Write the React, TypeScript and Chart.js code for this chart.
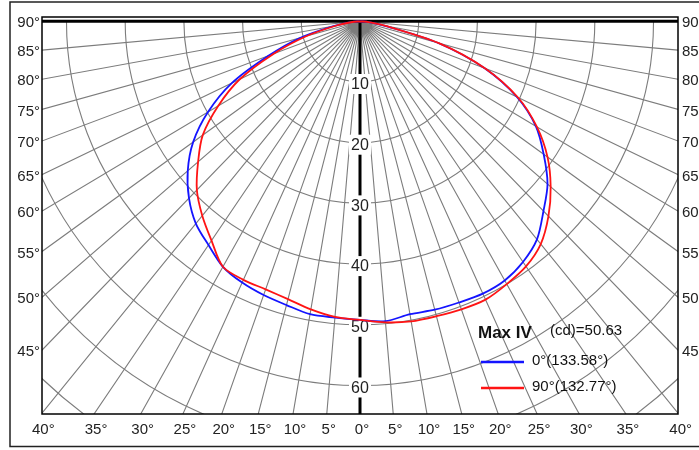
import React, { useEffect, useRef } from "react";
import { Chart, registerables } from "chart.js";

Chart.register(...registerables);

// ---- data (angle from nadir, degrees; intensity in cd) ----
const ANGLES = [
  -90, -85, -80, -75, -70, -65, -60, -55, -50, -45, -40, -35, -30, -25, -20, -15, -10, -5,
  0, 5, 10, 15, 20, 25, 30, 35, 40, 45, 50, 55, 60, 65, 70, 75, 80, 85, 90,
];
const C0_VALUES = [
  0, 1.5, 4.7, 10.6, 16.6, 24.1, 29.9, 34.7, 38.3, 41.2, 43.5, 45.0, 46.7, 47.5, 48.0, 48.4, 49.0, 49.0,
  49.2, 49.6, 49.0, 49.2, 49.3, 49.5, 49.3, 48.4, 46.9, 44.2, 41.7, 38.2, 34.6, 29.5, 22.6, 13.8, 4.5, 1.5, 0,
];
const C90_VALUES = [
  0, 1.3, 4.2, 9.5, 15.7, 22.6, 27.9, 32.7, 36.0, 39.3, 41.8, 44.1, 46.7, 47.0, 47.0, 47.4, 48.2, 48.9,
  49.2, 49.8, 50.2, 50.3, 50.5, 50.6, 50.0, 49.3, 47.9, 45.4, 42.4, 39.0, 34.8, 29.7, 22.7, 14.0, 4.6, 1.5, 0,
];
const SERIES_LABELS = ["0°(133.58°)", "90°(132.77°)"];
const LEGEND_TITLE = "Max IV";
const LEGEND_UNIT = "(cd)=50.63";

// ---- grid / tick labels ----
const RADIAL_TICKS = [10, 20, 30, 40, 50, 60];
const GRID_CIRCLES = [10, 20, 30, 40, 50, 60, 70, 80, 90];
const SPOKE_ANGLES = [
  -85, -80, -75, -70, -65, -60, -55, -50, -45, -40, -35, -30, -25, -20, -15, -10, -5,
  5, 10, 15, 20, 25, 30, 35, 40, 45, 50, 55, 60, 65, 70, 75, 80, 85,
];
const SIDE_LABEL_ANGLES = [90, 85, 80, 75, 70, 65, 60, 55, 50, 45];
const BOTTOM_LABEL_ANGLES = [-40, -35, -30, -25, -20, -15, -10, -5, 0, 5, 10, 15, 20, 25, 30, 35, 40];

const X_HALF = 54.17;
const Y_TOP = 0.71;
const Y_BOTTOM = -64.7;

const FONT = '"Liberation Sans", Arial, sans-serif';
const BLUE = "#1414ff";
const RED = "#ff1414";

const rad = (d: number) => (d * Math.PI) / 180;
const toXY = (vals: number[]) =>
  ANGLES.map((a, i) => ({ x: vals[i] * Math.sin(rad(a)), y: -vals[i] * Math.cos(rad(a)) }));

const polarPlugin = {
  id: "polarGrid",
  beforeDraw(chart: any) {
    const { ctx, width, height } = chart;
    ctx.save();
    ctx.fillStyle = "#ffffff";
    ctx.fillRect(0, 0, width, height);
    ctx.restore();
  },
  beforeDatasetsDraw(chart: any) {
    const { ctx, chartArea: ca, scales } = chart;
    const xs = scales.x;
    const ys = scales.y;
    const ox = xs.getPixelForValue(0);
    const oy = ys.getPixelForValue(0);
    const kx = xs.getPixelForValue(1) - ox;
    const ky = ys.getPixelForValue(-1) - oy;
    ctx.save();
    ctx.beginPath();
    ctx.rect(ca.left, ca.top, ca.right - ca.left, ca.bottom - ca.top);
    ctx.clip();

    ctx.strokeStyle = "#7c7c7c";
    ctx.lineWidth = 1.1;
    for (const r of GRID_CIRCLES) {
      ctx.beginPath();
      ctx.ellipse(ox, oy, r * kx, r * ky, 0, 0, Math.PI);
      ctx.stroke();
    }
    const R = 300;
    ctx.beginPath();
    for (const a of SPOKE_ANGLES) {
      const t = rad(a);
      ctx.moveTo(ox, oy);
      ctx.lineTo(xs.getPixelForValue(R * Math.sin(t)), ys.getPixelForValue(-R * Math.cos(t)));
    }
    ctx.stroke();

    // 90° line and nadir axis
    ctx.strokeStyle = "#000";
    ctx.lineWidth = 3;
    ctx.beginPath();
    ctx.moveTo(ca.left, oy);
    ctx.lineTo(ca.right, oy);
    ctx.stroke();
    ctx.beginPath();
    ctx.moveTo(ox, oy);
    ctx.lineTo(ox, ca.bottom);
    ctx.stroke();

    // radial tick labels
    ctx.font = `16px ${FONT}`;
    ctx.textAlign = "center";
    ctx.textBaseline = "middle";
    for (const r of RADIAL_TICKS) {
      const py = ys.getPixelForValue(-r);
      ctx.fillStyle = "#fff";
      ctx.fillRect(ox - 11, py - 8, 22, 20);
      ctx.fillStyle = "#222";
      ctx.fillText(String(r), ox, py + 3);
    }
    ctx.restore();
  },
  afterDraw(chart: any) {
    const { ctx, chartArea: ca, scales } = chart;
    const xs = scales.x;
    const ys = scales.y;
    ctx.save();
    // inner frame
    ctx.strokeStyle = "#000";
    ctx.lineWidth = 1.5;
    ctx.strokeRect(ca.left, ca.top, ca.right - ca.left, ca.bottom - ca.top);
    // outer frame
    ctx.strokeStyle = "#222";
    ctx.lineWidth = 1.5;
    ctx.strokeRect(10, 2, 700, 444.5);

    ctx.fillStyle = "#222";
    ctx.font = `15px ${FONT}`;
    ctx.textBaseline = "middle";
    const xMinVal = xs.getValueForPixel(ca.left);
    for (const a of SIDE_LABEL_ANGLES) {
      const t = rad(a);
      const vy = a === 90 ? 0 : -Math.abs(xMinVal) / Math.tan(t);
      const py = ys.getPixelForValue(vy) + 2;
      ctx.textAlign = "right";
      ctx.fillText(`${a}°`, ca.left - 2, py);
      ctx.textAlign = "left";
      ctx.fillText(`${a}°`, ca.right + 4, py);
    }
    const yMinVal = ys.getValueForPixel(ca.bottom);
    ctx.textAlign = "center";
    for (const a of BOTTOM_LABEL_ANGLES) {
      const vx = Math.abs(yMinVal) * Math.tan(rad(a));
      const px = xs.getPixelForValue(vx) + 2;
      ctx.fillText(`${Math.abs(a)}°`, px, ca.bottom + 16);
    }

    // legend
    const lx = ca.right - 200;
    ctx.textAlign = "left";
    ctx.fillStyle = "#111";
    ctx.font = `bold 17px ${FONT}`;
    ctx.fillText(LEGEND_TITLE, lx, ca.top + 316);
    ctx.font = `15px ${FONT}`;
    ctx.fillText(LEGEND_UNIT, lx + 72, ca.top + 314);
    const items = [
      { label: SERIES_LABELS[0], color: BLUE, y: ca.top + 345 },
      { label: SERIES_LABELS[1], color: RED, y: ca.top + 371 },
    ];
    for (const it of items) {
      ctx.strokeStyle = it.color;
      ctx.lineWidth = 2.5;
      ctx.beginPath();
      ctx.moveTo(lx + 3, it.y);
      ctx.lineTo(lx + 46, it.y);
      ctx.stroke();
      ctx.fillStyle = "#111";
      ctx.fillText(it.label, lx + 54, it.y - 1);
    }
    ctx.restore();
  },
};

export default function App() {
  const ref = useRef<HTMLCanvasElement | null>(null);
  useEffect(() => {
    if (!ref.current) return;
    const chart = new Chart(ref.current, {
      type: "scatter",
      data: {
        datasets: [
          {
            label: SERIES_LABELS[0],
            data: toXY(C0_VALUES),
            borderColor: BLUE,
            backgroundColor: BLUE,
            showLine: true,
            pointRadius: 0,
            borderWidth: 1.8,
            tension: 0.3,
            order: 2,
          },
          {
            label: SERIES_LABELS[1],
            data: toXY(C90_VALUES),
            borderColor: RED,
            backgroundColor: RED,
            showLine: true,
            pointRadius: 0,
            borderWidth: 1.8,
            tension: 0.3,
            order: 1,
          },
        ],
      },
      options: {
        responsive: false,
        animation: false,
        layout: { padding: { left: 42, top: 17, right: 21, bottom: 36 } },
        plugins: { legend: { display: false }, tooltip: { enabled: false } },
        scales: {
          x: { type: "linear", min: -X_HALF, max: X_HALF, display: false },
          y: { type: "linear", min: Y_BOTTOM, max: Y_TOP, display: false },
        },
      },
      plugins: [polarPlugin],
    });
    return () => chart.destroy();
  }, []);
  return (
    <div style={{ position: "absolute", left: 0, top: 0, width: 699, height: 450, background: "#fff" }}>
      <canvas ref={ref} width={699} height={450} style={{ display: "block" }} />
    </div>
  );
}
